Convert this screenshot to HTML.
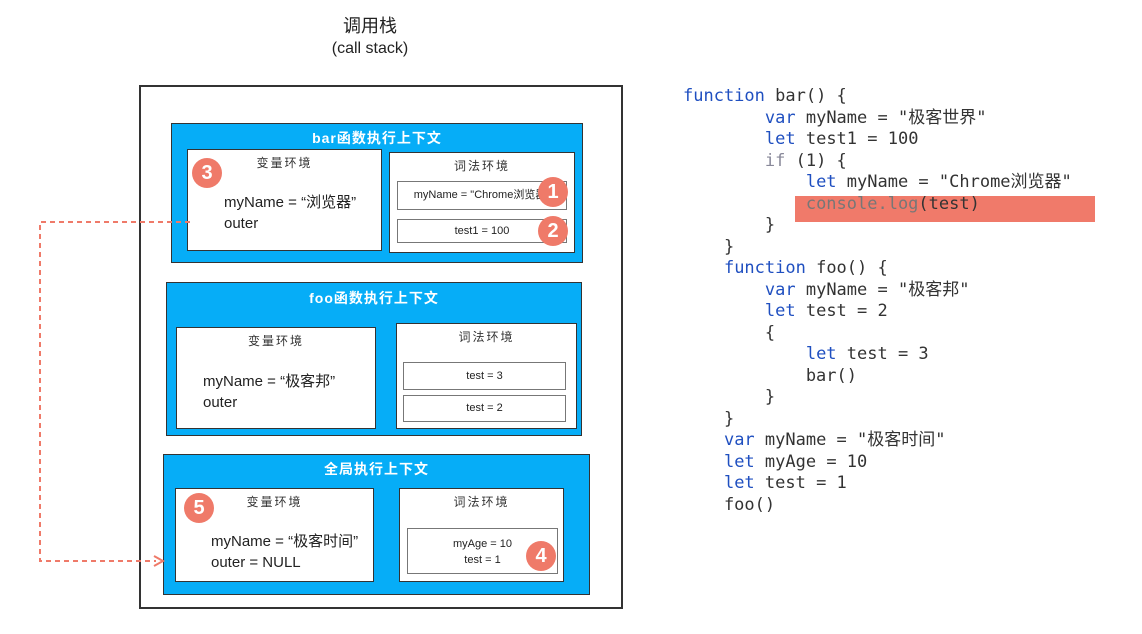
<!DOCTYPE html>
<html><head><meta charset="utf-8"><style>
*{margin:0;padding:0;box-sizing:border-box}
body{width:1142px;height:634px;background:#fff;position:relative;overflow:hidden;font-family:"Liberation Sans","Noto Sans CJK SC",sans-serif;color:#222}
.a{position:absolute}
.blue{position:absolute;background:#06adf7;border:1.5px solid #333}
.wb{position:absolute;background:#fff;border:1.5px solid #333}
.it{position:absolute;background:#fff;border:1px solid #777;font-size:11px;text-align:center}
.t{position:absolute;color:#fff;font-size:14px;font-weight:bold;text-align:center;width:100%;letter-spacing:1px}
.h{position:absolute;width:100%;text-align:center;font-size:12px;color:#333;letter-spacing:2px}
.b{position:absolute;width:30px;height:30px;border-radius:50%;background:#ef7a69;color:#fff;font-size:20px;font-weight:bold;text-align:center;line-height:30px}
.v{position:absolute;font-size:15px;line-height:21px}
.code{position:absolute;left:683px;top:86px;font-family:"DejaVu Sans Mono","Liberation Mono","Noto Sans CJK SC",monospace;font-size:17px;line-height:21.5px;white-space:pre;color:#333}
.k{color:#1f4fc0}
</style></head><body>
<div class="a" style="left:300px;top:12px;width:140px;text-align:center;font-size:18px">调用栈</div>
<div class="a" style="left:300px;top:40px;width:140px;text-align:center;font-size:16px">(call stack)</div>
<div class="a" style="left:139px;top:85px;width:484px;height:524px;border:2px solid #333"></div>

<div class="blue" style="left:171px;top:123px;width:412px;height:140px">
 <div class="t" style="top:4px">bar函数执行上下文</div>
</div>
<div class="wb" style="left:187px;top:149px;width:195px;height:102px"><div class="h" style="top:4px">变量环境</div>
 <div class="v" style="left:36px;top:42px">myName = “浏览器”<br>outer</div></div>
<div class="wb" style="left:389px;top:152px;width:186px;height:101px"><div class="h" style="top:4px">词法环境</div></div>
<div class="it" style="left:397px;top:181px;width:170px;height:29px;line-height:27px">myName = "Chrome浏览器"</div>
<div class="it" style="left:397px;top:219px;width:170px;height:24px;line-height:22px">test1 = 100</div>
<div class="b" style="left:192px;top:158px">3</div>
<div class="b" style="left:538px;top:177px">1</div>
<div class="b" style="left:538px;top:216px">2</div>

<div class="blue" style="left:166px;top:282px;width:416px;height:154px">
 <div class="t" style="top:5px">foo函数执行上下文</div>
</div>
<div class="wb" style="left:176px;top:327px;width:200px;height:102px"><div class="h" style="top:4px">变量环境</div>
 <div class="v" style="left:26px;top:43px">myName = “极客邦”<br>outer</div></div>
<div class="wb" style="left:396px;top:323px;width:181px;height:106px"><div class="h" style="top:4px">词法环境</div></div>
<div class="it" style="left:403px;top:362px;width:163px;height:28px;line-height:26px">test = 3</div>
<div class="it" style="left:403px;top:395px;width:163px;height:27px;line-height:25px">test = 2</div>

<div class="blue" style="left:163px;top:454px;width:427px;height:141px">
 <div class="t" style="top:4px">全局执行上下文</div>
</div>
<div class="wb" style="left:175px;top:488px;width:199px;height:94px"><div class="h" style="top:4px">变量环境</div>
 <div class="v" style="left:35px;top:42px">myName = “极客时间”<br>outer = NULL</div></div>
<div class="wb" style="left:399px;top:488px;width:165px;height:94px"><div class="h" style="top:4px">词法环境</div></div>
<div class="it" style="left:407px;top:528px;width:151px;height:46px;font-size:11px;line-height:16px;padding-top:7px">myAge = 10<br>test = 1</div>
<div class="b" style="left:184px;top:493px">5</div>
<div class="b" style="left:526px;top:541px">4</div>

<svg class="a" style="left:0;top:0" width="1142" height="634">
<path d="M190 222 H40 V561 H156" fill="none" stroke="#ef7a69" stroke-width="2" stroke-dasharray="5,4"/>
<path d="M154 556 L163 561 L154 566" fill="none" stroke="#ef7a69" stroke-width="2"/>
</svg>

<div class="a" style="left:795px;top:196px;width:300px;height:26px;background:#f07a6a"></div>
<div class="code"><span class="k">function</span> bar() {
        <span class="k">var</span> myName = "极客世界"
        <span class="k">let</span> test1 = 100
        <span style="color:#889">if</span> (1) {
            <span class="k">let</span> myName = "Chrome浏览器"
            <span style="color:#777">console.log</span>(test)
        }
    }
    <span class="k">function</span> foo() {
        <span class="k">var</span> myName = "极客邦"
        <span class="k">let</span> test = 2
        {
            <span class="k">let</span> test = 3
            bar()
        }
    }
    <span class="k">var</span> myName = "极客时间"
    <span class="k">let</span> myAge = 10
    <span class="k">let</span> test = 1
    foo()</div>
</body></html>
